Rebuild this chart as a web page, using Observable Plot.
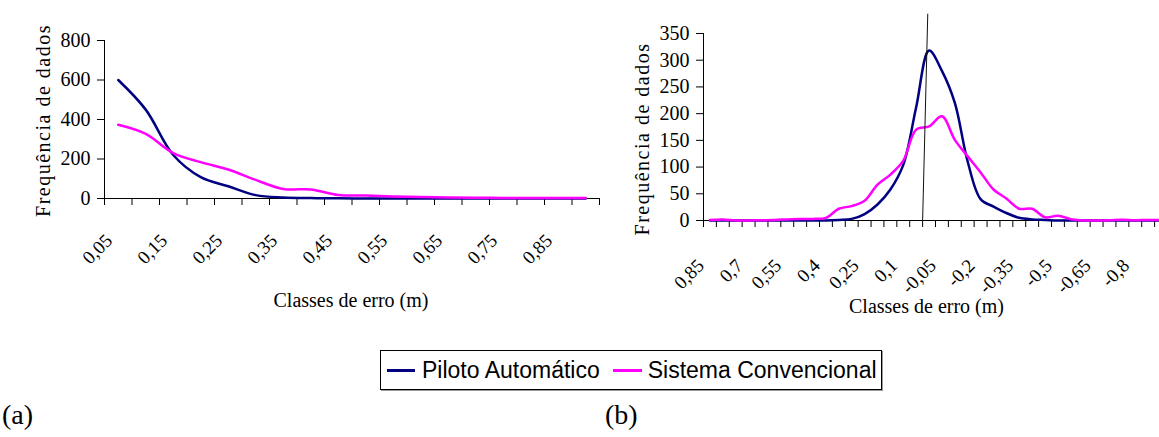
<!DOCTYPE html>
<html><head><meta charset="utf-8">
<script src="https://cdn.jsdelivr.net/npm/d3@7"></script>
<script src="https://cdn.jsdelivr.net/npm/@observablehq/plot@0.6"></script>
<style>
html,body{margin:0;padding:0;background:#fff;overflow:hidden;}
#page{position:relative;width:1159px;height:437px;overflow:hidden;background:#fff;}
#chartA{position:absolute;left:0;top:0;width:620px;height:320px;}
#chartB{position:absolute;left:600px;top:0;width:580px;height:320px;}
#chartA svg,#chartB svg{max-width:none !important;}
#legend{position:absolute;left:380px;top:350px;width:500px;height:38px;border:1px solid #000;box-shadow:1px 1px 0 #999;display:flex;align-items:center;font-family:"Liberation Sans",Arial,sans-serif;font-size:23px;color:#000;white-space:nowrap;}
.sw{display:inline-block;height:3px;}
.tag{position:absolute;font-family:"Liberation Serif","Times New Roman",serif;font-size:28px;line-height:1;color:#000;top:401px;}
</style>
</head><body>
<div id="page">
  <div id="chartA"></div>
  <div id="chartB"></div>
  <div id="legend"></div>
  <div class="tag" id="tagA" style="left:2px">(a)</div>
  <div class="tag" id="tagB" style="left:605px">(b)</div>
</div>
<script>
// ---- data ----
const seriesNames = ["Piloto Automático", "Sistema Convencional"];
const seriesColors = ["#000080", "#FF00FF"];
const xTitle = "Classes de erro (m)";
const yTitle = "Frequência de dados";

// (a)
const classesA = ["0,05","0,1","0,15","0,2","0,25","0,3","0,35","0,4","0,45","0,5","0,55","0,6","0,65","0,7","0,75","0,8","0,85","0,9"];
const pilotoA = [600, 450, 220, 108, 62, 17, 5, 2, 1, 0, 0, 0, 0, 0, 0, 0, 0, 0];
const convencionalA = [373, 327, 230, 184, 147, 94, 48, 46, 18, 15, 10, 7, 5, 4, 3, 2, 2, 2];
const yTicksA = [0, 200, 400, 600, 800];

// (b)
const classesB = ["0,85","0,8","0,75","0,7","0,65","0,6","0,55","0,5","0,45","0,4","0,35","0,3","0,25","0,2","0,15","0,1","0,05","0",
  "-0,05","-0,1","-0,15","-0,2","-0,25","-0,3","-0,35","-0,4","-0,45","-0,5","-0,55","-0,6","-0,65","-0,7","-0,75","-0,8","-0,85","-0,9"];
const pilotoB = [0, 0, 0, 0, 0, 0, 0, 0, 0, 0, 1, 3, 12, 30, 58, 104, 212, 318,
  280, 220, 110, 40, 26, 14, 5, 2, 1, 0, 0, 0, 0, 0, 0, 0, 0, 0];
const convencionalB = [1, 2, 0, 0, 0.5, 1, 2, 3, 3, 5, 22, 27, 37, 67, 86, 112, 170, 176,
  195, 151, 120, 90, 58, 41, 22, 22, 6, 9, 2.5, 0, 0, 0.5, 1.5, 0.5, 1, 1];
const yTicksB = [0, 50, 100, 150, 200, 250, 300, 350];
const markerB = {cls: "0", bottom: 0, top: 387};

// ---- drawing ----
function chart(o) {
  const n = o.classes.length;
  const rows = [];
  o.series.forEach((vals, s) => vals.forEach((v, i) => rows.push({pos: i + 0.5, value: v, serie: seriesNames[s]})));
  const marks = [
    Plot.ruleY([0], {stroke: "#000", strokeWidth: 1}),
    Plot.ruleX([0], {stroke: "#000", strokeWidth: 1}),
    Plot.axisY({ticks: o.yTicks, tickSize: 7, tickPadding: 7, fontSize: 20, label: null, tickFormat: d => String(d)}),
    Plot.axisX({ticks: d3.range(n + 1), tickSize: 7, tickFormat: () => "", label: null}),
    Plot.axisX({ticks: d3.range(0, n, o.labelEvery).map(i => i + 0.5), tickFormat: p => o.classes[Math.round(p - 0.5)],
      tickRotate: -45, tickSize: 0, tickPadding: o.labelPad, fontSize: 19, label: null}),
    Plot.line(rows, {x: "pos", y: "value", z: "serie", stroke: "serie", strokeWidth: 2.5, curve: "catmull-rom"}),
    Plot.text([xTitle], {frameAnchor: "bottom", dx: o.xTitleDx, dy: o.xTitleDy, fontSize: 20, lineAnchor: "middle", textAnchor: "middle"}),
    Plot.text([yTitle], {frameAnchor: "left", rotate: -90, dx: o.yTitleDx, dy: o.yTitleDy, fontSize: 20, lineAnchor: "middle", textAnchor: "middle"})
  ];
  if (o.marker) {
    const k = o.classes.indexOf(o.marker.cls);
    marks.push(Plot.link([o.marker], {x1: () => k, x2: () => k + 0.4, y1: "bottom", y2: "top", stroke: "#111", strokeWidth: 1}));
  }
  const svg = Plot.plot({
    width: o.width, height: o.height,
    marginLeft: o.marginLeft, marginRight: o.marginRight, marginTop: o.marginTop, marginBottom: o.marginBottom,
    x: {type: "linear", domain: [0, n], axis: null},
    y: {domain: o.yDomain, axis: null},
    color: {domain: seriesNames, range: seriesColors},
    style: {fontFamily: "'Liberation Serif', 'Times New Roman', serif", color: "#000", background: "transparent", overflow: "visible", maxWidth: "none"},
    marks
  });
  const s = d3.select(svg);
  s.selectAll("text").filter(function() { return this.textContent === yTitle; })
    .style("letter-spacing", "1.5px");
  s.selectAll('g[aria-label="x-axis tick label"]').each(function() {
    const g = d3.select(this);
    const t = g.attr("transform") || "";
    g.attr("transform", t + " translate(" + o.labelShift + ",0)");
  }).attr("font-size", 19);
  s.selectAll('g[aria-label="y-axis tick label"]').attr("font-size", 20);
  return svg;
}

document.getElementById("chartA").appendChild(chart({
  classes: classesA, series: [pilotoA, convencionalA], yDomain: [0, 800], yTicks: yTicksA, labelEvery: 2,
  width: 620, height: 320, marginLeft: 104, marginRight: 21, marginTop: 40, marginBottom: 122,
  labelPad: 39, labelShift: -9, xTitleDx: -1, xTitleDy: 102, yTitleDx: -61, yTitleDy: 1
}));
document.getElementById("chartB").appendChild(chart({
  classes: classesB, series: [pilotoB, convencionalB], yDomain: [0, 350], yTicks: yTicksB, labelEvery: 3,
  width: 580, height: 320, marginLeft: 103, marginRight: 13, marginTop: 33, marginBottom: 100,
  labelPad: 42, labelShift: -9, xTitleDx: -9, xTitleDy: 86, yTitleDx: -61, yTitleDy: 12, marker: markerB
}));

// legend
const legend = document.getElementById("legend");
const gaps = [[6, 28, 7], [13, 29, 6]];
seriesNames.forEach((name, i) => {
  const sw = document.createElement("span");
  sw.className = "sw";
  sw.style.background = seriesColors[i];
  sw.style.marginLeft = gaps[i][0] + "px";
  sw.style.width = gaps[i][1] + "px";
  sw.style.marginRight = gaps[i][2] + "px";
  const tx = document.createElement("span");
  tx.textContent = name;
  legend.appendChild(sw);
  legend.appendChild(tx);
});
</script>
</body></html>
